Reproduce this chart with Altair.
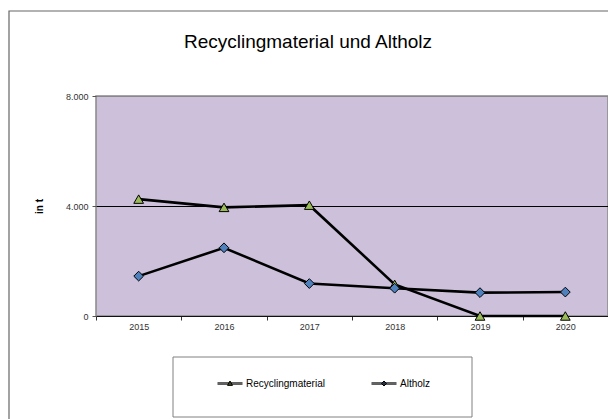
import altair as alt
import pandas as pd

years = ["2015", "2016", "2017", "2018", "2019", "2020"]
recycling = [4250, 3950, 4030, 1150, 0, 0]
altholz = [1450, 2480, 1180, 1010, 850, 870]
series_names = ["Recyclingmaterial", "Altholz"]
marker_colors = ["#9BBB59", "#4F81BD"]
marker_shapes = ["triangle-up", "diamond"]
y_ticks = [0, 4000, 8000]
title_text = "Recyclingmaterial  und Altholz"
y_title = "in t"

# legend symbols: short thick line with a tiny marker (units: 1 = half the symbol box)
legend_paths = [
    "M-1,-0.05H1M-1,0.05H1M0,-0.2L0.2,0.15L-0.2,0.15Z",
    "M-1,-0.05H1M-1,0.05H1M0,-0.2L0.2,0L0,0.2L-0.2,0Z",
]

rows = []
for name, vals in zip(series_names, [recycling, altholz]):
    for yr, v in zip(years, vals):
        rows.append({"Jahr": yr, "Wert": v, "Reihe": name})
df = pd.DataFrame(rows)

FONT = "Liberation Sans"

x_enc = alt.X(
    "Jahr:O",
    scale=alt.Scale(type="band", paddingInner=0, paddingOuter=0),
    axis=alt.Axis(
        title=None, labelAngle=0, tickBand="extent", tickSize=4,
        tickColor="#333333", domainColor="#111111", domainWidth=1.2,
        labelFont=FONT, labelFontSize=9, labelColor="#333333", labelPadding=2,
    ),
)
y_enc = alt.Y(
    "Wert:Q",
    scale=alt.Scale(domain=[0, 8000], nice=False),
    axis=alt.Axis(
        values=y_ticks, title=y_title, domain=False, tickSize=4,
        tickColor="#555555", labelFont=FONT, labelFontSize=9,
        labelColor="#333333", labelPadding=4,
        labelExpr="replace(format(datum.value, ','), ',', '.')",
        grid=True,
        gridColor={"condition": {"test": "datum.value === 4000", "value": "#000000"},
                   "value": "#888888"},
        gridWidth=1,
        titleFont=FONT, titleFontSize=10, titleFontWeight="bold",
        titleColor="#000000", titleX=-54, titleY=110, titleBaseline="alphabetic",
        titleAngle=270,
    ),
)

lines = alt.Chart(df).mark_line(strokeWidth=2.6, stroke="#000000").encode(
    x=x_enc, y=y_enc, detail="Reihe:N",
)

points = alt.Chart(df).mark_point(filled=True, stroke="#000000", strokeWidth=1, opacity=1).encode(
    x=x_enc,
    y=y_enc,
    fill=alt.Fill("Reihe:N", scale=alt.Scale(domain=series_names, range=marker_colors), legend=None),
    shape=alt.Shape("Reihe:N", scale=alt.Scale(domain=series_names, range=marker_shapes), legend=None),
    size=alt.value(95),
    order=alt.Order("Reihe:N", sort="descending"),
)

legend_kw = dict(
    orient="none", legendX=121, legendY=274.5, direction="horizontal",
    title=None, padding=0,
    symbolSize=625, symbolStrokeWidth=1,
    labelFont=FONT, labelFontSize=10, labelColor="#000000",
    labelOffset=3, columnPadding=44, symbolOpacity=1,
)

legend_layer = alt.Chart(df).transform_filter("false").mark_point(
    filled=True, opacity=1
).encode(
    x=x_enc,
    y=y_enc,
    shape=alt.Shape("Reihe:N", scale=alt.Scale(domain=series_names, range=legend_paths),
                    legend=alt.Legend(**legend_kw)),
    fill=alt.Fill("Reihe:N", scale=alt.Scale(domain=series_names, range=marker_colors),
                  legend=alt.Legend(**legend_kw)),
    stroke=alt.Stroke("Reihe:N", scale=alt.Scale(domain=series_names, range=["#000000", "#000000"]),
                      legend=alt.Legend(**legend_kw)),
)

frame_df = pd.DataFrame({"k": [0]})
outer = alt.Chart(frame_df).mark_rect(fill=None, stroke="#666666", strokeWidth=1.2, clip=False).encode(
    x=alt.value(-87), x2=alt.value(560), y=alt.value(-85), y2=alt.value(420)
)
legend_box = alt.Chart(frame_df).mark_rect(fill="white", stroke="#808080", strokeWidth=1, clip=False).encode(
    x=alt.value(77), x2=alt.value(376), y=alt.value(261), y2=alt.value(321)
)

chart = alt.layer(outer, lines, points, legend_box, legend_layer).resolve_scale(
    shape="independent", fill="independent", stroke="independent"
).properties(
    width=512,
    height=220,
    background="white",
    title=alt.TitleParams(
        title_text, font=FONT, fontSize=19, fontWeight="normal", color="#000000",
        anchor="middle", frame="group", dx=-44, offset=0, dy=61, baseline="bottom",
    ),
    autosize=alt.AutoSizeParams(type="none"),
    padding={"left": 88, "top": 88, "right": 0, "bottom": 103},
).configure_view(
    fill="#CCC0DA", stroke="#888888", strokeWidth=1.5
)

chart.save("out.html", embed_options={"renderer": "svg", "actions": False})
